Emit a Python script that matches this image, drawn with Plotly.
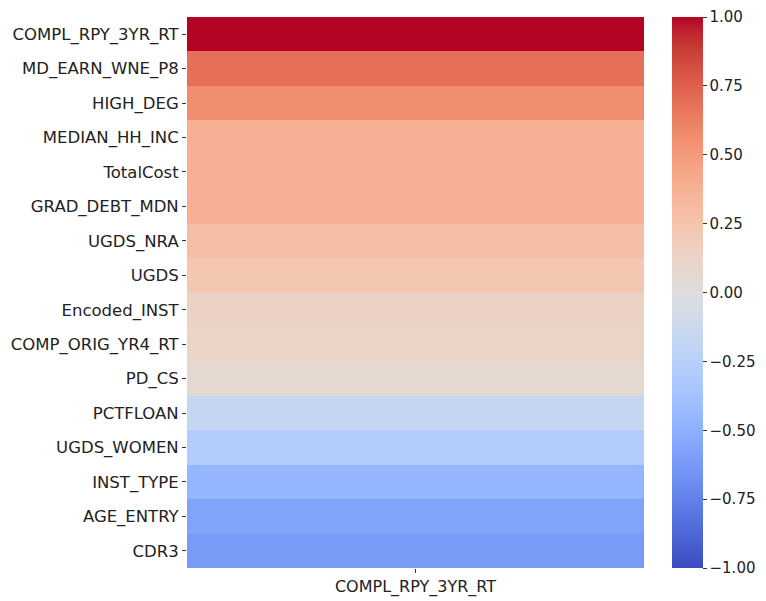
import plotly.graph_objects as go

rows = ["COMPL_RPY_3YR_RT", "MD_EARN_WNE_P8", "HIGH_DEG", "MEDIAN_HH_INC", "TotalCost",
        "GRAD_DEBT_MDN", "UGDS_NRA", "UGDS", "Encoded_INST", "COMP_ORIG_YR4_RT",
        "PD_CS", "PCTFLOAN", "UGDS_WOMEN", "INST_TYPE", "AGE_ENTRY", "CDR3"]
column = ["COMPL_RPY_3YR_RT"]
corr = [1.00, 0.69, 0.56, 0.38, 0.38, 0.38, 0.29, 0.23, 0.13, 0.12,
        0.06, -0.17, -0.29, -0.46, -0.57, -0.62]
cb_tickvals = [-1, -0.75, -0.5, -0.25, 0, 0.25, 0.5, 0.75, 1]
cb_ticktext = ["\u22121.00", "\u22120.75", "\u22120.50", "\u22120.25", "0.00",
               "0.25", "0.50", "0.75", "1.00"]

cw = [(0.0, (59, 76, 192)), (0.03125, (68, 90, 204)), (0.0625, (77, 104, 215)),
      (0.09375, (87, 117, 225)), (0.125, (98, 130, 234)), (0.15625, (108, 142, 241)),
      (0.1875, (119, 154, 247)), (0.21875, (130, 165, 251)), (0.25, (141, 176, 254)),
      (0.28125, (152, 185, 255)), (0.3125, (163, 194, 255)), (0.34375, (174, 201, 253)),
      (0.375, (184, 208, 249)), (0.40625, (194, 213, 244)), (0.4375, (204, 217, 238)),
      (0.46875, (213, 219, 230)), (0.5, (221, 221, 221)), (0.53125, (229, 216, 209)),
      (0.5625, (236, 211, 197)), (0.59375, (241, 204, 185)), (0.625, (245, 196, 173)),
      (0.65625, (247, 187, 160)), (0.6875, (247, 177, 148)), (0.71875, (247, 166, 135)),
      (0.75, (244, 154, 123)), (0.78125, (241, 141, 111)), (0.8125, (236, 127, 99)),
      (0.84375, (229, 112, 88)), (0.875, (222, 96, 77)), (0.90625, (213, 80, 66)),
      (0.9375, (203, 62, 56)), (0.96875, (192, 40, 47)), (1.0, (180, 4, 38))]
colorscale = [[t, "rgb(%d,%d,%d)" % c] for t, c in cw]

fig = go.Figure(go.Heatmap(
    z=[[v] for v in corr], x=column, y=rows,
    zmin=-1, zmax=1, colorscale=colorscale, xgap=0, ygap=0,
    colorbar=dict(
        x=1.061, xanchor="left", y=0.5, yanchor="middle",
        thickness=31, thicknessmode="pixels", len=551, lenmode="pixels",
        outlinewidth=0, ticks="outside", ticklen=4, tickwidth=1, tickcolor="#333",
        tickmode="array", tickvals=cb_tickvals, ticktext=cb_ticktext,
        ticklabeloverflow="allow",
        tickfont=dict(size=15, color="#222", family="DejaVu Sans"),
        xpad=0, ypad=0,
    ),
))

fig.update_layout(
    width=758, height=593,
    margin=dict(l=179, r=122, t=9, b=33, autoexpand=False),
    paper_bgcolor="white", plot_bgcolor="white",
    font=dict(family="DejaVu Sans", size=16.5, color="#222"),
)
fig.update_yaxes(autorange="reversed", ticks="outside", ticklen=4, tickcolor="#333",
                 showgrid=False, zeroline=False, tickfont=dict(size=16.5))
fig.update_xaxes(ticks="outside", ticklen=4, tickcolor="#333", showgrid=False,
                 zeroline=False, tickfont=dict(size=16))

fig.write_html("out.html")
